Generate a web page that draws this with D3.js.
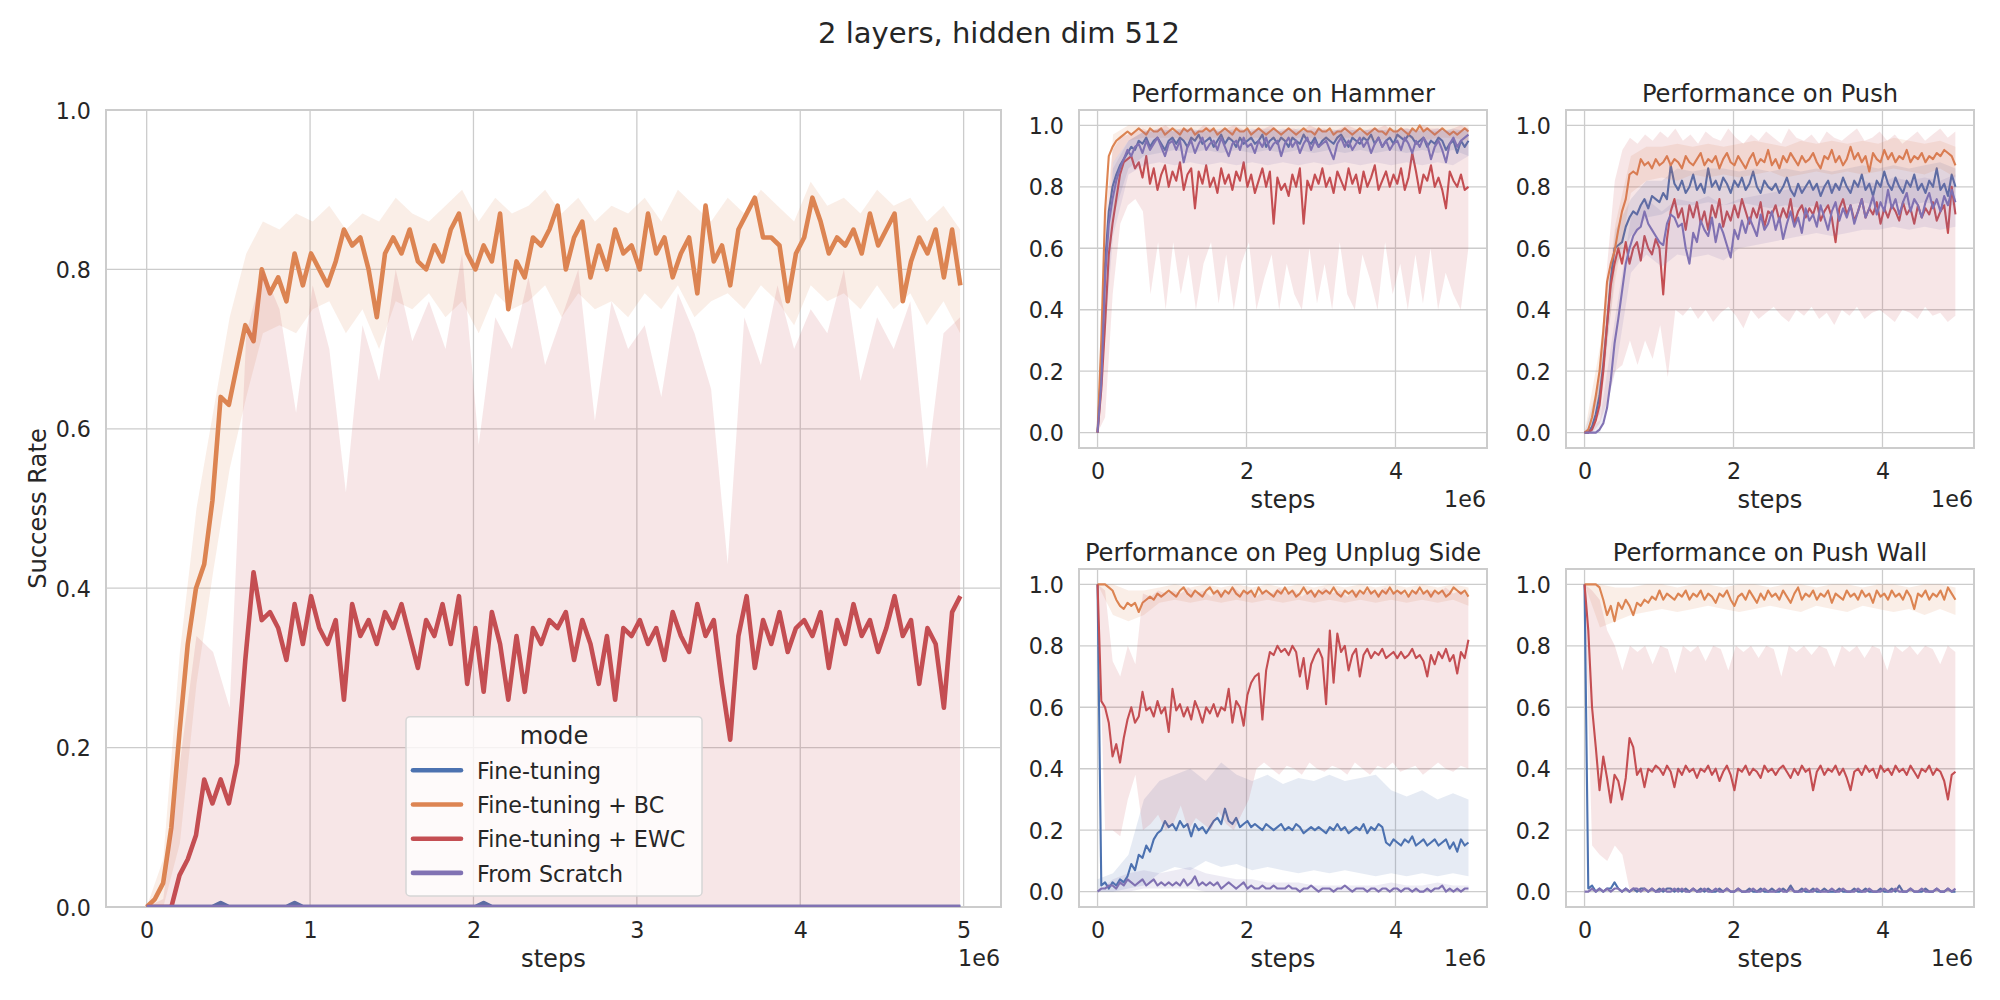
<!DOCTYPE html>
<html><head><meta charset="utf-8">
<script src="https://cdn.jsdelivr.net/npm/d3@7"></script>
<style>
body{margin:0;background:#fff}
svg{display:block}
text{font-family:"DejaVu Sans",sans-serif;fill:#262626}
</style>
</head><body>
<svg id="c" width="2000" height="1000"></svg>
<script>
// ---------------- DATA ----------------
const STEPS = d3.range(100).map(i => i * 50300);      // evaluation steps (mean curves)
const STEPS_B50 = d3.range(50).map(i => i * 101600);  // band sample steps (wide bands)
const STEPS_B25 = d3.range(25).map(i => i * 207500);  // band sample steps (narrow bands)

const MODES = ["Fine-tuning", "Fine-tuning + BC", "Fine-tuning + EWC", "From Scratch"];
const SUPTITLE = "2 layers, hidden dim 512";
const TASKS = ["Hammer", "Push", "Peg Unplug Side", "Push Wall"];
const MAIN_X_TICKS = [0, 1e6, 2e6, 3e6, 4e6, 5e6];
const SUB_X_TICKS = [0, 2e6, 4e6];
const Y_TICKS = [0, 0.2, 0.4, 0.6, 0.8, 1.0];

// ---- main (average over tasks)
const MAIN_FT = [
0,0,0,0,0,0,0,0,0,0.005, 0,0,0,0,0,0,0,0,0.005,0, 0,0,0,0,0,0,0,0,0,0, 0,0,0,0,0,0,0,0,0,0,
0,0.005,0,0,0,0,0,0,0,0, 0,0,0,0,0,0,0,0,0,0, 0,0,0,0,0,0,0,0,0,0, 0,0,0,0,0,0,0,0,0,0,
0,0,0,0,0,0,0,0,0,0, 0,0,0,0,0,0,0,0,0,0];
const MAIN_BC = [
0.00,0.01,0.03,0.10,0.22,0.33,0.40,0.43,0.51,0.64,
0.63,0.68,0.73,0.71,0.80,0.77,0.79,0.76,0.82,0.78,
0.82,0.80,0.78,0.81,0.85,0.83,0.84,0.80,0.74,0.82,
0.84,0.82,0.85,0.81,0.80,0.83,0.81,0.85,0.87,0.82,
0.80,0.83,0.81,0.87,0.75,0.81,0.79,0.84,0.83,0.85,
0.88,0.80,0.84,0.86,0.79,0.83,0.80,0.85,0.82,0.83,
0.80,0.87,0.82,0.84,0.79,0.82,0.84,0.77,0.88,0.81,
0.83,0.78,0.85,0.87,0.89,0.84,0.84,0.83,0.76,0.82,
0.84,0.89,0.86,0.82,0.84,0.83,0.85,0.82,0.87,0.83,
0.85,0.87,0.76,0.81,0.84,0.82,0.85,0.79,0.85,0.78];
const MAIN_EWC = [
0,0,0,0,0.04,0.06,0.09,0.16,0.13,0.16,
0.13,0.18,0.31,0.42,0.36,0.37,0.35,0.31,0.38,0.33,
0.39,0.35,0.33,0.36,0.26,0.38,0.34,0.36,0.33,0.37,
0.35,0.38,0.34,0.30,0.36,0.34,0.38,0.33,0.39,0.28,
0.35,0.27,0.37,0.33,0.26,0.34,0.27,0.35,0.33,0.36,
0.35,0.37,0.31,0.36,0.33,0.28,0.34,0.26,0.35,0.34,
0.36,0.33,0.35,0.31,0.37,0.34,0.32,0.38,0.34,0.36,
0.28,0.21,0.34,0.39,0.30,0.36,0.33,0.37,0.32,0.35,
0.36,0.34,0.37,0.30,0.36,0.33,0.38,0.34,0.36,0.32,
0.35,0.39,0.34,0.36,0.28,0.35,0.33,0.25,0.37,0.39];
const MAIN_SCRATCH = [
0,0,0,0,0,0,0,0,0,0, 0,0,0,0,0,0,0,0,0,0, 0,0,0,0,0,0,0,0,0,0, 0,0,0,0,0,0,0,0,0,0,
0,0,0,0,0,0,0,0,0,0, 0,0,0,0,0,0,0,0,0,0, 0,0,0,0,0,0,0,0,0,0, 0,0,0,0,0,0,0,0,0,0,
0,0,0,0,0,0,0,0,0,0, 0,0,0,0,0,0,0,0,0,0];
const MAIN_BC_LO = [
0,0.00,0.08,0.28,0.42,0.55,0.64,0.72,0.73,0.72,
0.75,0.76,0.72,0.75,0.70,0.76,0.75,0.77,0.74,0.76,
0.72,0.77,0.75,0.76,0.78,0.74,0.77,0.75,0.76,0.74,
0.77,0.75,0.78,0.74,0.76,0.77,0.75,0.78,0.76,0.73,
0.78,0.76,0.77,0.75,0.78,0.75,0.77,0.73,0.76,0.72];
const MAIN_BC_HI = [
0,0.06,0.32,0.50,0.62,0.74,0.82,0.86,0.85,0.87,
0.86,0.88,0.85,0.87,0.86,0.89,0.87,0.86,0.88,0.90,
0.86,0.89,0.87,0.88,0.90,0.87,0.89,0.86,0.88,0.87,
0.89,0.86,0.90,0.88,0.86,0.89,0.87,0.90,0.88,0.86,
0.91,0.88,0.89,0.87,0.90,0.88,0.89,0.86,0.88,0.85];
const MAIN_EWC_LO = [
0,0,0,0,0,0,0,0,0,0, 0,0,0,0,0,0,0,0,0,0, 0,0,0,0,0,0,0,0,0,0,
0,0,0,0,0,0,0,0,0,0, 0,0,0,0,0,0,0,0,0,0];
const MAIN_EWC_HI = [
0,0.01,0.18,0.34,0.32,0.25,0.72,0.80,0.75,0.62,
0.78,0.70,0.52,0.73,0.66,0.80,0.71,0.76,0.70,0.82,
0.58,0.74,0.70,0.79,0.68,0.74,0.80,0.61,0.76,0.70,
0.73,0.64,0.77,0.72,0.65,0.43,0.74,0.68,0.78,0.70,
0.75,0.72,0.80,0.66,0.74,0.70,0.76,0.55,0.72,0.74];

// ---- Hammer
const HAM_FT = [
0.00,0.22,0.55,0.72,0.80,0.84,0.87,0.89,0.91,0.93,
0.92,0.95,0.94,0.96,0.93,0.95,0.96,0.94,0.92,0.95,
0.96,0.94,0.96,0.95,0.93,0.96,0.95,0.97,0.94,0.95,
0.96,0.93,0.95,0.97,0.94,0.96,0.95,0.93,0.96,0.94,
0.95,0.96,0.94,0.95,0.97,0.93,0.95,0.96,0.94,0.96,
0.95,0.93,0.96,0.95,0.94,0.97,0.95,0.94,0.96,0.93,
0.95,0.96,0.95,0.94,0.96,0.97,0.95,0.93,0.96,0.95,
0.94,0.96,0.95,0.97,0.94,0.96,0.93,0.95,0.96,0.94,
0.97,0.96,0.95,0.97,0.96,0.94,0.95,0.96,0.93,0.95,
0.94,0.96,0.95,0.92,0.94,0.95,0.91,0.95,0.93,0.95];
const HAM_BC = [
0.00,0.30,0.72,0.90,0.93,0.95,0.96,0.97,0.98,0.97,
0.98,0.99,0.98,0.97,0.99,0.98,0.98,0.99,0.97,0.98,
0.99,0.98,0.97,0.99,0.98,0.99,0.97,0.98,0.98,0.99,
0.98,0.99,0.97,0.98,0.99,0.98,0.97,0.99,0.98,0.98,
0.99,0.97,0.98,0.99,0.98,0.97,0.98,0.99,0.98,0.97,
0.98,0.99,0.98,0.97,0.98,0.99,0.98,0.98,0.97,0.99,
0.98,0.98,0.99,0.97,0.98,0.98,0.99,0.98,0.97,0.98,
0.99,0.98,0.97,0.98,0.99,0.98,0.98,0.97,0.99,0.98,
0.98,0.99,0.98,0.97,0.99,0.98,1.00,0.98,0.99,0.98,
0.97,0.98,0.99,0.98,0.97,0.98,0.97,0.98,0.99,0.98];
const HAM_EWC = [
0.00,0.14,0.35,0.58,0.68,0.76,0.84,0.88,0.89,0.90,
0.86,0.88,0.83,0.90,0.81,0.86,0.79,0.84,0.87,0.80,
0.85,0.82,0.88,0.79,0.84,0.86,0.73,0.85,0.81,0.87,
0.80,0.83,0.78,0.86,0.81,0.84,0.79,0.85,0.82,0.88,
0.80,0.84,0.78,0.82,0.86,0.80,0.85,0.68,0.83,0.79,
0.81,0.77,0.84,0.80,0.86,0.68,0.82,0.79,0.84,0.81,
0.86,0.80,0.83,0.78,0.85,0.82,0.79,0.86,0.81,0.84,
0.78,0.85,0.80,0.83,0.87,0.79,0.82,0.85,0.80,0.84,
0.81,0.86,0.79,0.83,0.91,0.85,0.78,0.84,0.82,0.87,
0.80,0.83,0.79,0.73,0.85,0.82,0.80,0.84,0.79,0.80];
const HAM_SCRATCH = [
0.00,0.16,0.50,0.68,0.76,0.82,0.86,0.89,0.92,0.90,
0.93,0.94,0.91,0.95,0.92,0.94,0.96,0.93,0.90,0.94,
0.95,0.92,0.95,0.88,0.93,0.95,0.91,0.94,0.96,0.92,
0.94,0.95,0.92,0.96,0.93,0.90,0.94,0.95,0.92,0.96,
0.93,0.94,0.91,0.95,0.93,0.96,0.92,0.94,0.95,0.90,
0.94,0.96,0.93,0.95,0.91,0.94,0.96,0.92,0.95,0.93,
0.94,0.95,0.92,0.89,0.94,0.96,0.93,0.95,0.92,0.94,
0.96,0.93,0.95,0.91,0.94,0.96,0.93,0.95,0.92,0.94,
0.95,0.92,0.96,0.94,0.91,0.95,0.93,0.96,0.94,0.89,
0.93,0.95,0.92,0.88,0.94,0.96,0.93,0.95,0.96,0.97];
const HAM_FT_LO = [0,0.70,0.86,0.90,0.91,0.92,0.91,0.92,0.91,0.92,0.91,0.92,0.91,0.92,0.91,0.92,0.91,0.92,0.91,0.92,0.91,0.92,0.91,0.92,0.90];
const HAM_FT_HI = [0,0.88,0.95,0.98,0.98,0.99,0.98,0.99,0.98,0.99,0.98,0.99,0.98,0.99,0.98,0.99,0.98,0.99,0.98,0.99,0.98,0.99,0.98,0.99,0.98];
const HAM_BC_LO = [0,0.88,0.95,0.96,0.96,0.96,0.95,0.96,0.96,0.95,0.96,0.96,0.95,0.96,0.96,0.95,0.96,0.96,0.95,0.96,0.96,0.95,0.96,0.96,0.95];
const HAM_BC_HI = [0,0.97,1.00,1.00,1.00,1.00,1.00,1.00,1.00,1.00,1.00,1.00,1.00,1.00,1.00,1.00,1.00,1.00,1.00,1.00,1.00,1.00,1.00,1.00,1.00];
const HAM_EWC_LO = [
0,0.05,0.45,0.68,0.74,0.76,0.72,0.45,0.62,0.40,
0.62,0.45,0.58,0.40,0.55,0.62,0.42,0.58,0.40,0.55,
0.62,0.40,0.50,0.58,0.40,0.55,0.45,0.40,0.60,0.42,
0.55,0.40,0.62,0.45,0.40,0.58,0.50,0.40,0.62,0.45,
0.55,0.40,0.58,0.42,0.60,0.40,0.52,0.45,0.40,0.60];
const HAM_EWC_HI = [
0,0.70,0.92,0.96,0.97,0.98,0.99,0.98,0.99,1.00,
0.98,0.99,0.99,0.98,1.00,0.99,0.98,0.99,1.00,0.99,
0.98,0.99,0.99,1.00,0.98,0.99,0.99,0.98,1.00,0.99,
0.99,0.98,0.99,1.00,0.99,0.98,0.99,0.99,1.00,0.98,
0.99,0.99,0.98,1.00,0.99,0.99,0.98,0.99,1.00,0.99];
const HAM_SCRATCH_LO = [0,0.64,0.84,0.87,0.88,0.87,0.88,0.87,0.88,0.87,0.88,0.87,0.88,0.87,0.88,0.87,0.88,0.87,0.88,0.87,0.88,0.87,0.88,0.87,0.90];
const HAM_SCRATCH_HI = [0,0.86,0.95,0.98,0.99,0.98,0.99,0.98,0.99,0.98,0.99,0.98,0.99,0.98,0.99,0.98,0.99,0.98,0.99,0.98,0.99,0.98,0.99,0.98,0.99];

// ---- Push
const PUSH_FT = [
0.00,0.00,0.02,0.06,0.12,0.22,0.35,0.50,0.60,0.61,
0.62,0.67,0.70,0.72,0.71,0.74,0.76,0.73,0.77,0.76,
0.75,0.78,0.76,0.87,0.81,0.79,0.82,0.78,0.80,0.84,
0.79,0.81,0.78,0.86,0.80,0.82,0.79,0.83,0.81,0.78,
0.82,0.80,0.83,0.79,0.81,0.85,0.80,0.78,0.82,0.80,
0.79,0.81,0.78,0.80,0.83,0.79,0.77,0.81,0.78,0.80,
0.82,0.79,0.81,0.77,0.80,0.82,0.78,0.81,0.79,0.83,
0.80,0.78,0.82,0.80,0.84,0.79,0.81,0.77,0.82,0.80,
0.85,0.81,0.79,0.83,0.80,0.78,0.82,0.80,0.84,0.79,
0.81,0.78,0.82,0.80,0.86,0.79,0.81,0.77,0.84,0.80];
const PUSH_BC = [
0.00,0.01,0.05,0.12,0.20,0.33,0.49,0.55,0.59,0.66,
0.72,0.76,0.84,0.85,0.84,0.89,0.87,0.88,0.86,0.89,
0.87,0.88,0.90,0.87,0.89,0.88,0.86,0.90,0.88,0.87,
0.89,0.91,0.87,0.89,0.88,0.90,0.86,0.89,0.91,0.88,
0.87,0.90,0.88,0.86,0.89,0.91,0.87,0.89,0.88,0.92,
0.87,0.89,0.86,0.90,0.88,0.91,0.89,0.87,0.90,0.88,
0.89,0.91,0.88,0.86,0.90,0.89,0.92,0.88,0.90,0.87,
0.89,0.93,0.89,0.91,0.88,0.90,0.85,0.91,0.89,0.88,
0.92,0.89,0.91,0.88,0.90,0.89,0.92,0.88,0.90,0.89,
0.91,0.88,0.90,0.89,0.91,0.90,0.92,0.91,0.90,0.87];
const PUSH_EWC = [
0.00,0.00,0.01,0.04,0.09,0.20,0.35,0.48,0.55,0.60,
0.55,0.62,0.55,0.60,0.62,0.56,0.64,0.60,0.58,0.63,
0.60,0.45,0.63,0.72,0.76,0.70,0.73,0.66,0.74,0.70,
0.75,0.68,0.72,0.66,0.74,0.70,0.76,0.67,0.72,0.69,
0.74,0.70,0.76,0.72,0.68,0.73,0.70,0.75,0.67,0.72,
0.71,0.74,0.69,0.73,0.70,0.76,0.68,0.72,0.74,0.70,
0.73,0.71,0.75,0.69,0.72,0.74,0.70,0.62,0.73,0.76,
0.71,0.74,0.69,0.72,0.76,0.70,0.73,0.71,0.75,0.68,
0.73,0.70,0.74,0.72,0.69,0.75,0.71,0.73,0.68,0.74,
0.70,0.73,0.71,0.75,0.69,0.72,0.74,0.65,0.80,0.71];
const PUSH_SCRATCH = [
0.00,0.00,0.00,0.00,0.01,0.03,0.08,0.17,0.29,0.37,
0.46,0.55,0.60,0.64,0.66,0.67,0.72,0.68,0.66,0.64,
0.62,0.61,0.68,0.71,0.70,0.67,0.68,0.60,0.55,0.65,
0.62,0.69,0.66,0.64,0.70,0.62,0.68,0.65,0.61,0.57,
0.66,0.63,0.69,0.65,0.70,0.67,0.64,0.71,0.66,0.68,
0.72,0.66,0.70,0.63,0.68,0.72,0.67,0.70,0.65,0.73,
0.69,0.71,0.67,0.74,0.70,0.66,0.72,0.75,0.69,0.73,
0.70,0.74,0.68,0.72,0.76,0.70,0.73,0.77,0.71,0.75,
0.72,0.79,0.73,0.76,0.71,0.75,0.78,0.72,0.76,0.74,
0.70,0.75,0.78,0.73,0.76,0.72,0.77,0.74,0.79,0.75];
const PUSH_FT_LO = [0,0.06,0.54,0.64,0.70,0.71,0.74,0.74,0.75,0.74,0.75,0.74,0.73,0.74,0.73,0.74,0.73,0.74,0.75,0.74,0.75,0.74,0.75,0.74,0.74];
const PUSH_FT_HI = [0,0.18,0.66,0.76,0.82,0.82,0.86,0.85,0.86,0.86,0.85,0.86,0.85,0.86,0.85,0.86,0.85,0.86,0.87,0.86,0.87,0.86,0.87,0.88,0.86];
const PUSH_BC_LO = [0,0.12,0.50,0.78,0.82,0.83,0.82,0.84,0.83,0.84,0.83,0.84,0.85,0.83,0.84,0.85,0.84,0.85,0.84,0.85,0.86,0.85,0.84,0.86,0.83];
const PUSH_BC_HI = [0,0.28,0.68,0.90,0.93,0.93,0.94,0.93,0.94,0.93,0.94,0.95,0.94,0.93,0.95,0.94,0.95,0.94,0.95,0.94,0.96,0.95,0.94,0.95,0.93];
const PUSH_EWC_LO = [
0,0.00,0.03,0.10,0.20,0.22,0.30,0.22,0.30,0.24,
0.35,0.18,0.40,0.38,0.41,0.37,0.40,0.36,0.39,0.41,
0.38,0.34,0.40,0.37,0.39,0.41,0.38,0.36,0.40,0.38,
0.41,0.37,0.39,0.35,0.40,0.38,0.41,0.37,0.39,0.40,
0.38,0.36,0.40,0.39,0.37,0.41,0.38,0.39,0.36,0.38];
const PUSH_EWC_HI = [
0,0.04,0.22,0.55,0.82,0.92,0.96,0.94,0.97,0.95,
0.98,0.96,0.99,0.95,0.97,0.94,0.98,0.96,0.95,0.99,
0.96,0.94,0.97,0.95,0.98,0.96,0.94,0.99,0.96,0.95,
0.97,0.94,0.98,0.96,0.95,0.97,0.99,0.95,0.96,0.98,
0.95,0.97,0.94,0.96,0.98,0.95,0.97,0.99,0.96,0.98];
const PUSH_SCRATCH_LO = [0,0.00,0.20,0.52,0.58,0.54,0.58,0.57,0.58,0.56,0.60,0.61,0.62,0.63,0.64,0.65,0.64,0.65,0.66,0.66,0.67,0.66,0.67,0.66,0.67];
const PUSH_SCRATCH_HI = [0,0.04,0.38,0.70,0.76,0.72,0.76,0.75,0.77,0.74,0.76,0.77,0.78,0.79,0.80,0.80,0.81,0.80,0.82,0.81,0.83,0.82,0.83,0.82,0.84];

// ---- Peg Unplug Side
const PEG_FT = [
1.00,0.02,0.03,0.01,0.03,0.02,0.04,0.03,0.05,0.09,
0.07,0.12,0.11,0.15,0.13,0.17,0.19,0.20,0.23,0.21,
0.22,0.20,0.23,0.21,0.22,0.18,0.22,0.20,0.21,0.19,
0.21,0.23,0.24,0.22,0.27,0.23,0.22,0.24,0.21,0.22,
0.23,0.21,0.22,0.21,0.20,0.22,0.21,0.20,0.21,0.22,
0.20,0.21,0.20,0.22,0.21,0.19,0.20,0.21,0.20,0.21,
0.20,0.19,0.21,0.20,0.22,0.20,0.21,0.19,0.20,0.21,
0.20,0.22,0.19,0.21,0.20,0.22,0.21,0.16,0.15,0.17,
0.16,0.15,0.17,0.16,0.18,0.15,0.16,0.17,0.15,0.16,
0.17,0.15,0.16,0.17,0.14,0.16,0.13,0.17,0.15,0.16];
const PEG_BC = [
1.00,1.00,1.00,0.99,0.98,0.95,0.93,0.92,0.94,0.93,
0.94,0.91,0.94,0.95,0.96,0.95,0.97,0.96,0.97,0.98,
0.97,0.96,0.98,0.99,0.97,0.96,0.98,0.97,0.96,0.98,
0.99,0.97,0.98,0.96,0.98,0.97,0.99,0.97,0.96,0.98,
0.97,0.98,0.96,0.99,0.97,0.98,0.97,0.96,0.98,0.97,
0.99,0.97,0.98,0.96,0.97,0.99,0.97,0.98,0.96,0.98,
0.97,0.98,0.97,0.99,0.97,0.96,0.98,0.97,0.98,0.96,
0.98,0.97,0.99,0.97,0.98,0.96,0.98,0.97,0.99,0.97,
0.98,0.97,0.98,0.96,0.98,0.97,0.99,0.97,0.98,0.96,
0.98,0.97,0.98,0.96,0.97,0.99,0.98,0.97,0.98,0.96];
const PEG_EWC = [
1.00,0.62,0.60,0.55,0.44,0.48,0.42,0.50,0.56,0.60,
0.55,0.57,0.65,0.59,0.60,0.57,0.62,0.58,0.60,0.52,
0.66,0.59,0.61,0.57,0.60,0.56,0.62,0.59,0.55,0.60,
0.58,0.61,0.57,0.60,0.59,0.66,0.55,0.62,0.60,0.54,
0.64,0.68,0.70,0.71,0.56,0.72,0.78,0.77,0.80,0.78,
0.79,0.77,0.80,0.78,0.70,0.76,0.66,0.74,0.77,0.79,
0.76,0.61,0.85,0.68,0.84,0.78,0.80,0.72,0.77,0.79,
0.70,0.77,0.79,0.76,0.78,0.77,0.79,0.76,0.77,0.78,
0.76,0.78,0.76,0.77,0.79,0.76,0.77,0.75,0.70,0.77,
0.74,0.78,0.76,0.79,0.75,0.77,0.71,0.78,0.76,0.82];
const PEG_SCRATCH = [
0.00,0.01,0.01,0.02,0.02,0.01,0.03,0.02,0.04,0.03,
0.02,0.03,0.04,0.02,0.03,0.04,0.02,0.03,0.02,0.03,
0.02,0.03,0.02,0.04,0.02,0.03,0.05,0.02,0.03,0.02,
0.03,0.02,0.03,0.01,0.02,0.03,0.02,0.01,0.02,0.03,
0.01,0.02,0.01,0.01,0.02,0.01,0.01,0.02,0.01,0.01,
0.01,0.02,0.01,0.01,0.00,0.01,0.01,0.02,0.01,0.00,
0.01,0.01,0.01,0.00,0.01,0.01,0.02,0.01,0.00,0.01,
0.01,0.01,0.00,0.01,0.01,0.00,0.01,0.01,0.00,0.01,
0.01,0.00,0.01,0.01,0.00,0.01,0.00,0.00,0.01,0.00,
0.01,0.01,0.02,0.00,0.01,0.00,0.01,0.00,0.01,0.01];
const PEG_FT_LO = [0.00,0.00,0.01,0.02,0.06,0.08,0.07,0.10,0.08,0.09,0.07,0.08,0.07,0.06,0.07,0.06,0.07,0.06,0.05,0.06,0.05,0.06,0.05,0.06,0.05];
const PEG_FT_HI = [0.04,0.06,0.12,0.30,0.36,0.38,0.40,0.36,0.42,0.38,0.36,0.38,0.35,0.37,0.36,0.38,0.36,0.37,0.38,0.33,0.31,0.33,0.30,0.32,0.30];
const PEG_BC_LO = [1.00,0.90,0.88,0.90,0.94,0.95,0.94,0.95,0.94,0.95,0.94,0.95,0.94,0.95,0.94,0.95,0.94,0.95,0.94,0.95,0.94,0.95,0.94,0.95,0.93];
const PEG_BC_HI = [1.00,1.00,0.98,0.98,0.99,1.00,0.99,1.00,0.99,1.00,0.99,1.00,0.99,1.00,0.99,1.00,0.99,1.00,0.99,1.00,0.99,1.00,0.99,1.00,0.99];
const PEG_EWC_LO = [
1.00,0.20,0.20,0.18,0.30,0.38,0.20,0.22,0.25,0.20,
0.22,0.28,0.20,0.24,0.22,0.20,0.26,0.22,0.20,0.25,
0.30,0.40,0.42,0.40,0.38,0.41,0.40,0.38,0.42,0.40,
0.39,0.41,0.40,0.38,0.42,0.40,0.38,0.41,0.40,0.42,
0.39,0.40,0.41,0.38,0.40,0.42,0.40,0.39,0.41,0.40];
const PEG_EWC_HI = [
1.00,0.98,0.75,0.70,0.80,0.74,0.97,0.96,0.98,0.97,
0.98,0.97,0.99,0.97,0.98,0.96,0.98,0.97,0.99,0.97,
0.98,0.96,0.98,0.97,0.99,0.97,0.98,0.96,0.98,0.97,
0.99,0.97,0.98,0.96,0.98,0.97,0.98,0.97,0.99,0.97,
0.98,0.96,0.98,0.97,0.98,0.97,0.99,0.97,0.98,0.96];
const PEG_SCRATCH_LO = [0,0,0,0.01,0.01,0.01,0.01,0,0,0,0,0,0,0,0,0,0,0,0,0,0,0,0,0,0];
const PEG_SCRATCH_HI = [0,0.04,0.06,0.07,0.06,0.07,0.08,0.06,0.05,0.04,0.04,0.03,0.03,0.03,0.02,0.02,0.02,0.02,0.02,0.03,0.02,0.02,0.03,0.02,0.02];

// ---- Push Wall
const WALL_FT = [
1.00,0.01,0.02,0.00,0.01,0.00,0.01,0.01,0.03,0.01,
0.00,0.01,0.00,0.01,0.00,0.01,0.01,0.00,0.01,0.00,
0.01,0.00,0.01,0.01,0.00,0.01,0.00,0.01,0.00,0.01,
0.00,0.01,0.00,0.01,0.00,0.00,0.01,0.00,0.01,0.00,
0.00,0.01,0.00,0.00,0.01,0.00,0.00,0.01,0.00,0.00,
0.01,0.00,0.00,0.01,0.00,0.02,0.00,0.00,0.01,0.00,
0.00,0.01,0.00,0.00,0.01,0.00,0.00,0.00,0.01,0.00,
0.00,0.00,0.01,0.00,0.00,0.01,0.00,0.00,0.00,0.01,
0.00,0.00,0.01,0.00,0.02,0.00,0.00,0.01,0.00,0.00,
0.00,0.01,0.00,0.00,0.01,0.00,0.00,0.01,0.00,0.00];
const WALL_BC = [
1.00,1.00,1.00,1.00,0.99,0.95,0.90,0.93,0.88,0.94,
0.92,0.95,0.93,0.90,0.94,0.93,0.95,0.94,0.96,0.95,
0.98,0.95,0.97,0.96,0.95,0.97,0.96,0.98,0.95,0.97,
0.96,0.98,0.95,0.97,0.96,0.94,0.97,0.96,0.98,0.95,
0.93,0.96,0.97,0.95,0.98,0.96,0.94,0.97,0.95,0.98,
0.96,0.97,0.95,0.98,0.96,0.94,0.97,0.99,0.95,0.97,
0.96,0.98,0.95,0.97,0.96,0.98,0.94,0.97,0.96,0.95,
0.98,0.96,0.97,0.95,0.98,0.96,0.97,0.94,0.98,0.96,
0.97,0.95,0.98,0.96,0.97,0.95,0.98,0.96,0.92,0.97,
0.96,0.98,0.95,0.97,0.96,0.98,0.95,0.99,0.97,0.95];
const WALL_EWC = [
1.00,0.85,0.60,0.47,0.33,0.44,0.37,0.29,0.38,0.36,
0.30,0.37,0.50,0.47,0.38,0.40,0.34,0.40,0.39,0.41,
0.40,0.38,0.41,0.39,0.34,0.40,0.38,0.41,0.39,0.40,
0.37,0.40,0.39,0.41,0.38,0.40,0.36,0.39,0.41,0.38,
0.33,0.40,0.39,0.41,0.38,0.40,0.39,0.37,0.41,0.39,
0.40,0.38,0.40,0.41,0.39,0.37,0.40,0.38,0.41,0.39,
0.40,0.33,0.39,0.41,0.38,0.40,0.39,0.41,0.38,0.40,
0.37,0.33,0.39,0.40,0.38,0.41,0.39,0.40,0.37,0.41,
0.39,0.40,0.38,0.41,0.39,0.40,0.38,0.41,0.39,0.37,
0.40,0.39,0.41,0.38,0.40,0.39,0.36,0.30,0.38,0.39];
const WALL_SCRATCH = [
0.00,0.00,0.01,0.00,0.01,0.00,0.01,0.00,0.01,0.01,
0.00,0.01,0.00,0.01,0.01,0.00,0.01,0.00,0.01,0.00,
0.00,0.01,0.00,0.00,0.01,0.00,0.01,0.00,0.00,0.01,
0.00,0.00,0.01,0.00,0.00,0.01,0.00,0.00,0.01,0.00,
0.00,0.01,0.00,0.00,0.00,0.01,0.00,0.00,0.01,0.00,
0.00,0.00,0.01,0.00,0.00,0.01,0.00,0.00,0.00,0.01,
0.00,0.00,0.01,0.00,0.00,0.00,0.01,0.00,0.00,0.01,
0.00,0.00,0.00,0.01,0.00,0.00,0.01,0.00,0.00,0.00,
0.01,0.00,0.00,0.01,0.00,0.00,0.00,0.01,0.00,0.00,
0.01,0.00,0.00,0.00,0.01,0.00,0.00,0.01,0.00,0.01];
const WALL_BC_LO = [1.00,0.86,0.88,0.90,0.91,0.92,0.91,0.92,0.93,0.92,0.91,0.92,0.93,0.92,0.91,0.93,0.92,0.91,0.93,0.92,0.91,0.92,0.90,0.92,0.90];
const WALL_BC_HI = [1.00,1.00,0.99,0.99,1.00,1.00,0.99,1.00,1.00,0.99,1.00,1.00,0.99,1.00,1.00,0.99,1.00,1.00,0.99,1.00,1.00,0.99,1.00,1.00,0.99];
const WALL_EWC_LO = [
1.00,0.15,0.12,0.10,0.15,0.12,0.00,0,0,0,
0,0,0,0,0,0,0,0,0,0, 0,0,0,0,0,0,0,0,0,0,
0,0,0,0,0,0,0,0,0,0, 0,0,0,0,0,0,0,0,0,0];
const WALL_EWC_HI = [
1.00,0.98,0.95,0.85,0.80,0.72,0.80,0.78,0.80,0.74,
0.80,0.79,0.71,0.80,0.78,0.80,0.75,0.80,0.79,0.72,
0.80,0.78,0.80,0.76,0.80,0.79,0.70,0.80,0.78,0.80,
0.77,0.80,0.79,0.73,0.80,0.78,0.80,0.76,0.80,0.79,
0.72,0.80,0.78,0.80,0.77,0.80,0.79,0.74,0.80,0.78];

// ---------------- STYLE / LAYOUT ----------------
const COLORS = ["#4c72b0", "#dd8452", "#c44e52", "#8172b3"];
const TEXT = "#262626", GRID = "#cccccc";
const FS_TICK = 22.2, FS_LABEL = 24.2, FS_SUP = 29;

const panels = [
  {title: null, main: true, box: {x: 106, y: 110, w: 895, h: 797},
   series: [MAIN_FT, MAIN_BC, MAIN_EWC, MAIN_SCRATCH],
   bands: [null, [STEPS_B50, MAIN_BC_LO, MAIN_BC_HI], [STEPS_B50, MAIN_EWC_LO, MAIN_EWC_HI], null]},
  {title: "Performance on " + TASKS[0], box: {x: 1079, y: 110, w: 408, h: 338},
   series: [HAM_FT, HAM_BC, HAM_EWC, HAM_SCRATCH],
   bands: [[STEPS_B25, HAM_FT_LO, HAM_FT_HI], [STEPS_B25, HAM_BC_LO, HAM_BC_HI], [STEPS_B50, HAM_EWC_LO, HAM_EWC_HI], [STEPS_B25, HAM_SCRATCH_LO, HAM_SCRATCH_HI]]},
  {title: "Performance on " + TASKS[1], box: {x: 1566, y: 110, w: 408, h: 338},
   series: [PUSH_FT, PUSH_BC, PUSH_EWC, PUSH_SCRATCH],
   bands: [[STEPS_B25, PUSH_FT_LO, PUSH_FT_HI], [STEPS_B25, PUSH_BC_LO, PUSH_BC_HI], [STEPS_B50, PUSH_EWC_LO, PUSH_EWC_HI], [STEPS_B25, PUSH_SCRATCH_LO, PUSH_SCRATCH_HI]]},
  {title: "Performance on " + TASKS[2], box: {x: 1079, y: 569, w: 408, h: 338},
   series: [PEG_FT, PEG_BC, PEG_EWC, PEG_SCRATCH],
   bands: [[STEPS_B25, PEG_FT_LO, PEG_FT_HI], [STEPS_B25, PEG_BC_LO, PEG_BC_HI], [STEPS_B50, PEG_EWC_LO, PEG_EWC_HI], [STEPS_B25, PEG_SCRATCH_LO, PEG_SCRATCH_HI]]},
  {title: "Performance on " + TASKS[3], box: {x: 1566, y: 569, w: 408, h: 338},
   series: [WALL_FT, WALL_BC, WALL_EWC, WALL_SCRATCH],
   bands: [null, [STEPS_B25, WALL_BC_LO, WALL_BC_HI], [STEPS_B50, WALL_EWC_LO, WALL_EWC_HI], null]}
];

// ---------------- DRAW ----------------
const svg = d3.select("#c");
svg.append("rect").attr("width", 2000).attr("height", 1000).attr("fill", "#fff");

svg.append("text").attr("x", 999).attr("y", 42.7).attr("text-anchor", "middle")
  .style("font-size", FS_SUP + "px").text(SUPTITLE);

const R = d3.max(STEPS);

panels.forEach((p, pi) => {
  const b = p.box;
  const g = svg.append("g").attr("transform", `translate(${b.x},${b.y})`);
  const x = d3.scaleLinear().domain([-0.05 * R, 1.05 * R]).range([0, b.w]);
  const y = d3.scaleLinear().domain(p.main ? [0, 1] : [-0.05, 1.05]).range([b.h, 0]);
  const xt = p.main ? MAIN_X_TICKS : SUB_X_TICKS;

  // grid
  g.append("g").selectAll("line.v").data(xt).join("line")
    .attr("x1", d => x(d)).attr("x2", d => x(d)).attr("y1", 0).attr("y2", b.h)
    .attr("stroke", GRID).attr("stroke-width", 1.3);
  g.append("g").selectAll("line.h").data(Y_TICKS).join("line")
    .attr("y1", d => y(d)).attr("y2", d => y(d)).attr("x1", 0).attr("x2", b.w)
    .attr("stroke", GRID).attr("stroke-width", 1.3);

  // clip
  const cid = "clip" + pi;
  svg.append("clipPath").attr("id", cid).append("rect").attr("x", b.x).attr("y", b.y).attr("width", b.w).attr("height", b.h);
  const dg = svg.append("g").attr("clip-path", `url(#${cid})`).append("g").attr("transform", `translate(${b.x},${b.y})`);

  const line = d3.line().x((d, i) => x(STEPS[i])).y(d => y(d));
  p.series.forEach((s, si) => {
    dg.append("path").datum(s).attr("d", line)
      .attr("fill", "none").attr("stroke", COLORS[si])
      .attr("stroke-width", p.main ? 4.6 : 2.1)
      .attr("stroke-linejoin", "round");
    const band = p.bands[si];
    if (band) {
      const [bx, lo, hi] = band;
      const n = Math.min(bx.length, lo.length, hi.length);
      const pts = d3.range(n).map(i => [bx[i], lo[i], hi[i]]);
      const area = d3.area().x(d => x(d[0])).y0(d => y(d[1])).y1(d => y(d[2]));
      dg.append("path").datum(pts).attr("d", area)
        .attr("fill", COLORS[si]).attr("fill-opacity", 0.14).attr("stroke", "none");
    }
  });

  // spines
  g.append("rect").attr("width", b.w).attr("height", b.h)
    .attr("fill", "none").attr("stroke", GRID).attr("stroke-width", 2);

  // axes
  const ax = g.append("g").attr("transform", `translate(0,${b.h})`)
    .call(d3.axisBottom(x).tickValues(xt).tickSize(0).tickPadding(15).tickFormat(d => String(d / 1e6)));
  const ay = g.append("g")
    .call(d3.axisLeft(y).tickValues(Y_TICKS).tickSize(0).tickPadding(15).tickFormat(d3.format(".1f")));
  [ax, ay].forEach(a => {
    a.select(".domain").remove();
    a.selectAll("text").style("font-size", FS_TICK + "px").style("font-family", '"DejaVu Sans",sans-serif').attr("fill", TEXT);
  });
  ay.selectAll("text").attr("dy", "0.36em");

  g.append("text").attr("x", b.w / 2).attr("y", b.h + 60).attr("text-anchor", "middle")
    .style("font-size", FS_LABEL + "px").text("steps");
  g.append("text").attr("x", b.w - 1).attr("y", b.h + 59).attr("text-anchor", "end")
    .style("font-size", FS_TICK + "px").text("1e6");

  if (p.title) {
    g.append("text").attr("x", b.w / 2).attr("y", -8.3).attr("text-anchor", "middle")
      .style("font-size", FS_LABEL + "px").text(p.title);
  }
  if (p.main) {
    g.append("text").attr("transform", `translate(${46 - b.x},${b.h / 2}) rotate(-90)`)
      .attr("text-anchor", "middle").style("font-size", FS_LABEL + "px").text("Success Rate");
  }
});

// legend (inside main axes)
const lg = svg.append("g");
lg.append("rect").attr("x", 406).attr("y", 716.7).attr("width", 296).attr("height", 179.3)
  .attr("rx", 4).attr("fill", "#fff").attr("fill-opacity", 0.8)
  .attr("stroke", "#d6d6d6").attr("stroke-width", 1.5);
lg.append("text").attr("x", 554).attr("y", 744.3).attr("text-anchor", "middle")
  .style("font-size", FS_LABEL + "px").text("mode");
MODES.forEach((m, i) => {
  const yy = 779 + i * 34.2;
  lg.append("line").attr("x1", 413).attr("x2", 461).attr("y1", yy - 8.7).attr("y2", yy - 8.7)
    .attr("stroke", COLORS[i]).attr("stroke-width", 4.6).attr("stroke-linecap", "round");
  lg.append("text").attr("x", 477).attr("y", yy).style("font-size", FS_TICK + "px").text(m);
});
</script>
</body></html>
